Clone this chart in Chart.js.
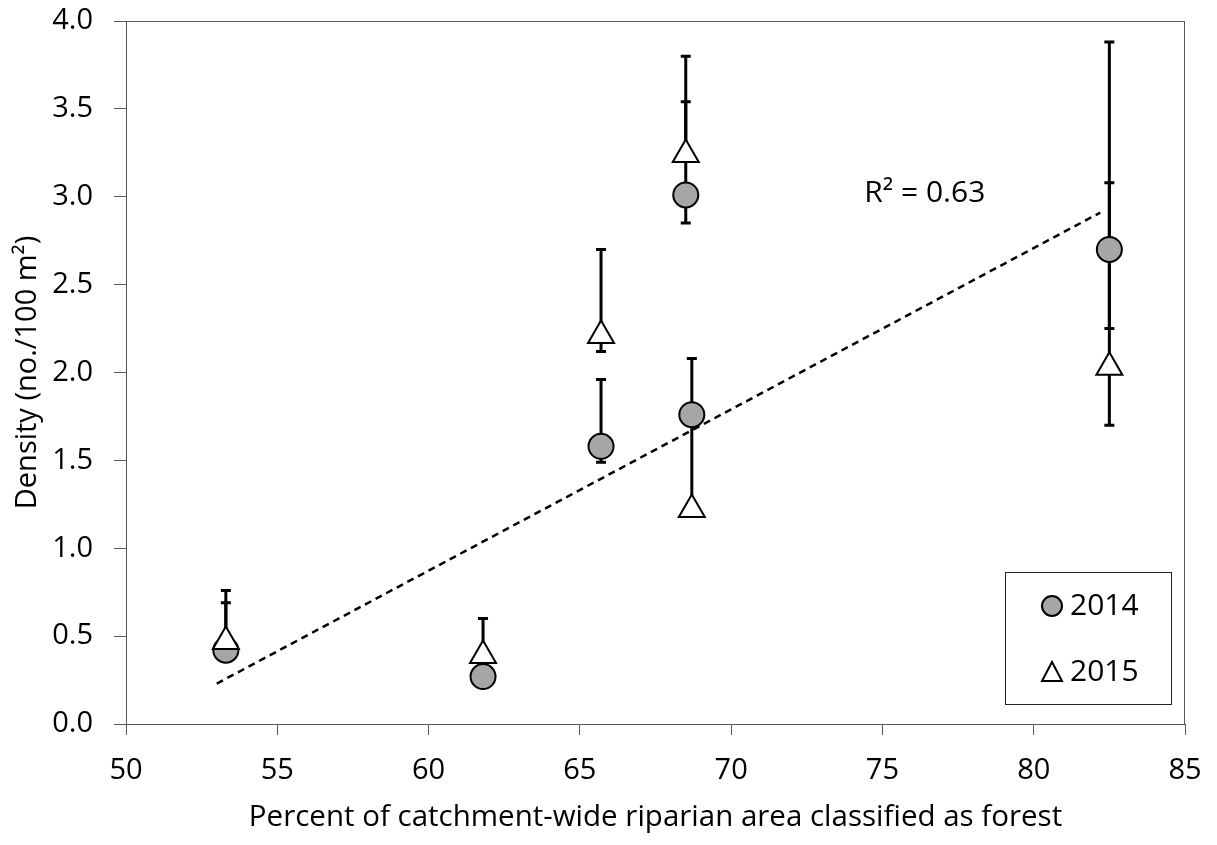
<!DOCTYPE html>
<html>
<head>
<meta charset="utf-8">
<script src="https://cdn.jsdelivr.net/npm/chart.js@4.4.1/dist/chart.umd.min.js"></script>
<style>
  html, body { margin: 0; padding: 0; background: #fff; }
  #wrap { width: 1217px; height: 845px; }
</style>
</head>
<body>
<div id="wrap"><canvas id="density"></canvas></div>
<script>
// percent of catchment-wide riparian area classified as forest (one value per site)
var sites = [53.3, 61.8, 65.7, 68.5, 68.7, 82.5];

var density2014 = [0.42, 0.27, 1.58, 3.01, 1.76, 2.70];
var upper2014 = [0.69, 0.27, 1.96, 3.54, 2.08, 3.08];
var lower2014 = [0.42, 0.27, 1.49, 2.85, 1.22, 2.25];

var density2015 = [0.47, 0.39, 2.21, 3.24, 1.22, 2.03];
var upper2015 = [0.76, 0.60, 2.70, 3.80, 1.22, 3.88];
var lower2015 = [0.47, 0.39, 2.12, 3.24, 1.22, 1.70];

// linear trend line end points
var trendX = [53.0, 82.2];
var trendY = [0.23, 2.91];
var rSquared = '0.63';

var font = '"Open Sans", Lato, sans-serif';
var axisColor = '#595959';

function points(xs, ys) {
    return xs.map(function (x, i) { return { x: x, y: ys[i] }; });
}

var errorBars = [
    { values: density2014, upper: upper2014, lower: lower2014 },
    { values: density2015, upper: upper2015, lower: lower2015 }
];

var extras = {
    id: 'extras',
    beforeDatasetsDraw: function (chart) {
        var ctx = chart.ctx, a = chart.chartArea;
        var xs = chart.scales.x, ys = chart.scales.y;
        ctx.save();
        // plot frame
        ctx.strokeStyle = axisColor;
        ctx.lineWidth = 1;
        ctx.strokeRect(a.left + 0.5, a.top + 0.5, a.right - a.left - 1, a.bottom - a.top);
        // error bars
        ctx.strokeStyle = '#000';
        ctx.lineWidth = 3;
        errorBars.forEach(function (eb) {
            sites.forEach(function (s, i) {
                var px = xs.getPixelForValue(s);
                var v = eb.values[i];
                [eb.upper[i], eb.lower[i]].forEach(function (end) {
                    if (end === v) return;
                    var p0 = ys.getPixelForValue(v), p1 = ys.getPixelForValue(end);
                    ctx.beginPath();
                    ctx.moveTo(px, p0);
                    ctx.lineTo(px, p1);
                    ctx.moveTo(px - 5, p1);
                    ctx.lineTo(px + 5, p1);
                    ctx.stroke();
                });
            });
        });
        ctx.restore();
    },
    afterDraw: function (chart) {
        var ctx = chart.ctx, a = chart.chartArea;
        var xs = chart.scales.x, ys = chart.scales.y;
        ctx.save();
        // R squared label
        ctx.fillStyle = '#000';
        ctx.font = '30px ' + font;
        ctx.textAlign = 'center';
        ctx.textBaseline = 'middle';
        ctx.fillText('R\u00B2 = ' + rSquared, xs.getPixelForValue(76.4), ys.getPixelForValue(3.02));

        // legend box
        var bw = 166, bh = 132;
        var bx = a.right - 14 - bw, by = a.bottom - 20 - bh;
        ctx.strokeStyle = '#262626';
        ctx.lineWidth = 1;
        ctx.strokeRect(bx + 0.5, by + 0.5, bw, bh);

        var mx = bx + 47;
        var y1 = by + 34, y2 = by + 100;
        ctx.lineWidth = 2;
        ctx.strokeStyle = '#000';
        ctx.fillStyle = '#a6a6a6';
        ctx.beginPath();
        ctx.arc(mx, y1, 10, 0, Math.PI * 2);
        ctx.fill();
        ctx.stroke();

        ctx.fillStyle = '#fff';
        ctx.beginPath();
        ctx.moveTo(mx, y2 - 10);
        ctx.lineTo(mx + 10, y2 + 9);
        ctx.lineTo(mx - 10, y2 + 9);
        ctx.closePath();
        ctx.fill();
        ctx.stroke();

        ctx.fillStyle = '#000';
        ctx.font = '30px ' + font;
        ctx.textAlign = 'left';
        ctx.textBaseline = 'middle';
        ctx.fillText(chart.data.datasets[1].label, mx + 18, y1);
        ctx.fillText(chart.data.datasets[0].label, mx + 18, y2);
        ctx.restore();
    }
};

new Chart(document.getElementById('density').getContext('2d'), {
    type: 'scatter',
    data: {
        datasets: [{
            label: '2015',
            data: points(sites, density2015),
            pointStyle: 'triangle',
            pointRadius: 15,
            pointHoverRadius: 15,
            backgroundColor: '#ffffff',
            borderColor: '#000000',
            borderWidth: 2,
            order: 1
        }, {
            label: '2014',
            data: points(sites, density2014),
            pointStyle: 'circle',
            pointRadius: 12.5,
            pointHoverRadius: 12.5,
            backgroundColor: '#a6a6a6',
            borderColor: '#000000',
            borderWidth: 2,
            order: 2
        }, {
            type: 'line',
            label: 'trend',
            data: points(trendX, trendY),
            borderColor: '#000000',
            borderWidth: 2.5,
            borderDash: [7, 5],
            pointRadius: 0,
            fill: false,
            order: 3
        }]
    },
    options: {
        responsive: true,
        maintainAspectRatio: false,
        animation: false,
        layout: { padding: { top: 21, right: 32, left: 0, bottom: 0 } },
        plugins: {
            legend: { display: false },
            tooltip: { enabled: false }
        },
        scales: {
            x: {
                type: 'linear',
                min: 50,
                max: 85,
                afterFit: function (scale) {
                    scale.height = 121;
                    scale.paddingLeft = 0;
                    scale.paddingRight = 0;
                },
                ticks: {
                    stepSize: 5,
                    color: '#000',
                    padding: 18,
                    font: { family: font, size: 29 }
                },
                grid: { drawOnChartArea: false, tickLength: 11, color: axisColor },
                border: { color: axisColor, width: 1 },
                title: {
                    display: true,
                    text: 'Percent of catchment-wide riparian area classified as forest',
                    color: '#000',
                    font: { family: font, size: 29.5 },
                    padding: { top: 0, bottom: 10 }
                }
            },
            y: {
                min: 0,
                max: 4,
                afterFit: function (scale) {
                    scale.width = 126;
                    scale.paddingTop = 0;
                    scale.paddingBottom = 0;
                },
                ticks: {
                    stepSize: 0.5,
                    color: '#000',
                    padding: 21,
                    font: { family: font, size: 29 },
                    callback: function (v) { return v.toFixed(1); }
                },
                grid: { drawOnChartArea: false, tickLength: 12, color: axisColor },
                border: { color: axisColor, width: 1 },
                title: {
                    display: true,
                    text: 'Density (no./100 m\u00B2)',
                    color: '#000',
                    font: { family: font, size: 29 },
                    padding: { top: 10, bottom: 0 }
                }
            }
        }
    },
    plugins: [extras]
});
</script>
</body>
</html>
